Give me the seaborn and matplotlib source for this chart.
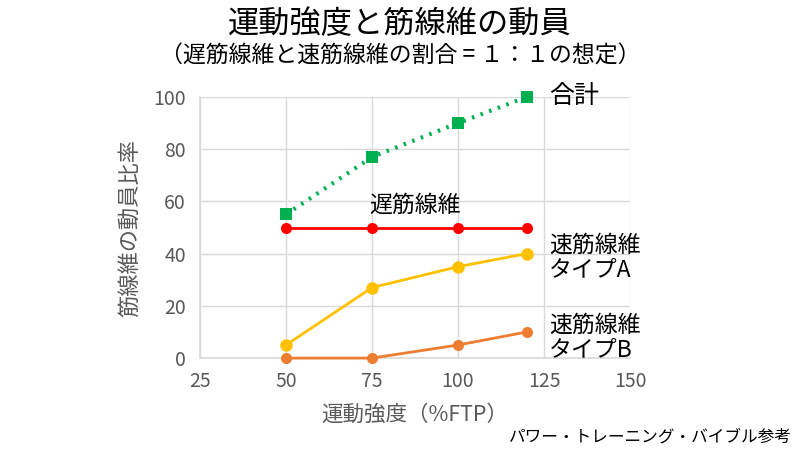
import matplotlib
matplotlib.use("Agg")
import matplotlib.pyplot as plt
import seaborn as sns
import pandas as pd

# データ
intensity = [50, 75, 100, 120]
total = [55, 77, 90, 100]
slow = [50, 50, 50, 50]
fast_a = [5, 27, 35, 40]
fast_b = [0, 0, 5, 10]

x_ticks = [25, 50, 75, 100, 125, 150]
y_ticks = [0, 20, 40, 60, 80, 100]

sns.set_theme(style="whitegrid")
plt.rcParams['font.family'] = ['Noto Sans CJK JP', 'DejaVu Sans']

fig = plt.figure(figsize=(8, 4.51), dpi=100)
ax = fig.add_axes([0.25, 0.206, 0.5375, 0.579])

df = pd.DataFrame({"x": intensity, "total": total, "slow": slow,
                   "a": fast_a, "b": fast_b})

sns.lineplot(data=df, x="x", y="b", ax=ax, color="#ED7D31", lw=2,
             marker="o", markersize=8, markeredgewidth=0)
sns.lineplot(data=df, x="x", y="a", ax=ax, color="#FFC000", lw=2,
             marker="o", markersize=9, markeredgewidth=0)
sns.lineplot(data=df, x="x", y="slow", ax=ax, color="#FF0000", lw=2,
             marker="o", markersize=8, markeredgewidth=0)
sns.lineplot(data=df, x="x", y="total", ax=ax, color="#00B050", lw=3,
             linestyle=(0, (0.6, 1.6)), marker="s", markersize=8,
             markeredgewidth=0)
for l in ax.lines:
    l.set_clip_on(False)
    l.set_zorder(5)

ax.set_xlim(25, 150)
ax.set_ylim(0, 100)
ax.set_xticks(x_ticks)
ax.set_yticks(y_ticks)
ax.grid(True, color="#D9D9D9", lw=1)
for s in ["top", "right"]:
    ax.spines[s].set_visible(False)
for s in ["left", "bottom"]:
    ax.spines[s].set_color("#D9D9D9")
    ax.spines[s].set_linewidth(1.2)
    ax.spines[s].set_zorder(1)
ax.tick_params(axis="both", colors="#595959", labelsize=14, length=0)
ax.tick_params(axis="y", pad=10)
ax.tick_params(axis="x", pad=9)

ax.set_xlabel("運動強度（%FTP）", fontsize=15.5, color="#595959", labelpad=9)
ax.set_ylabel("筋線維の動員比率", fontsize=16, color="#595959", labelpad=9)

# 系列ラベル
ax.text(126.5, 100.5, "合計", fontsize=18, ha="left", va="center", color="black")
ax.text(87.5, 58.5, "遅筋線維", fontsize=16.5, ha="center", va="center",
        color="black")
ax.text(126.5, 38.5, "速筋線維\nタイプA", fontsize=16.5, ha="left",
        va="center", color="black", linespacing=1.1)
ax.text(126.5, 7.8, "速筋線維\nタイプB", fontsize=16.5, ha="left",
        va="center", color="black", linespacing=1.1)

fig.text(0.5, 0.947, "運動強度と筋線維の動員", fontsize=22.5, ha="center",
         va="center", color="black")
fig.text(0.5, 0.876, "（遅筋線維と速筋線維の割合 = １：１の想定）",
         fontsize=16.5, ha="center", va="center", color="black")
fig.text(0.99, 0.03, "パワー・トレーニング・バイブル参考", fontsize=12,
         ha="right", va="center", color="black")

fig.savefig("out.png", dpi=100)
